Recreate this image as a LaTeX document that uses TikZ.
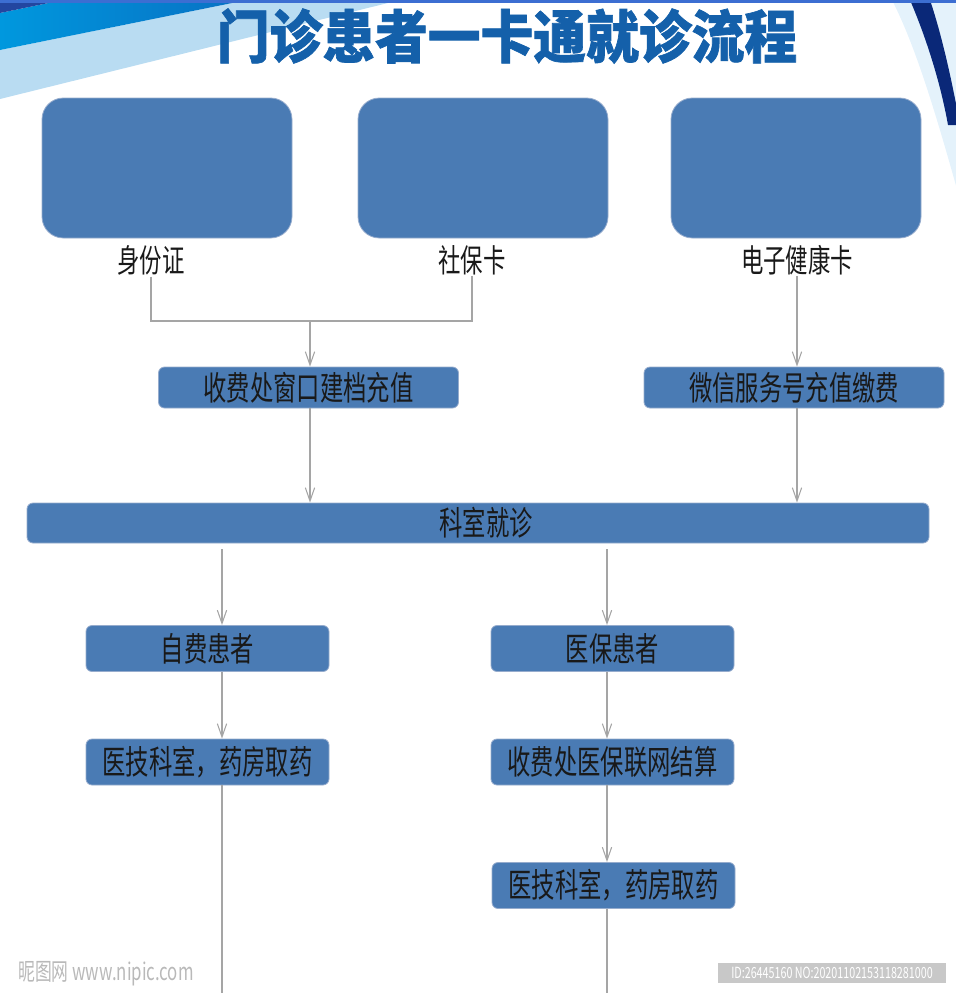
\documentclass[tikz,border=0pt]{standalone}
\usepackage{fontspec}
\usetikzlibrary{arrows.meta}
\newfontfamily\cjk[FakeStretch=0.7]{Noto Sans CJK SC}
\newfontfamily\cjktitle[FakeStretch=0.92,BoldFeatures={FakeBold=1.2}]{Noto Sans CJK SC}
\definecolor{boxblue}{RGB}{74,123,180}
\definecolor{boxedge}{RGB}{150,172,205}
\definecolor{linegray}{RGB}{165,165,165}
\definecolor{titleblue}{RGB}{20,96,170}
\definecolor{txt}{RGB}{25,25,25}
\definecolor{navyA}{RGB}{35,70,160}
\definecolor{midL}{RGB}{0,152,222}
\definecolor{midR}{RGB}{8,112,195}
\definecolor{lightband}{RGB}{185,220,242}
\definecolor{verylight}{RGB}{228,242,251}
\definecolor{navyB}{RGB}{10,40,120}
\definecolor{topline}{RGB}{60,110,210}
\definecolor{idgray}{RGB}{200,200,200}
\definecolor{wmgray}{RGB}{185,185,185}
\tikzset{
  bigbox/.style={draw=boxedge, line width=0.6pt, fill=boxblue, rounded corners=16pt,
    minimum width=187.5pt, minimum height=105pt, inner sep=0pt},
  flowbox/.style={draw=boxedge, line width=0.6pt, fill=boxblue, rounded corners=4.5pt,
    inner sep=0pt, font=\cjk\fontsize{25}{28}\selectfont, text=txt},
  lbl/.style={font=\cjk\fontsize{24}{26}\selectfont, text=txt, inner sep=1pt},
  conn/.style={draw=linegray, line width=0.8pt},
  arr/.style={conn, -{Straight Barb[length=10pt,width=7pt,line width=0.8pt]}},
}
\begin{document}
\begin{tikzpicture}[x=0.75pt,y=-0.75pt]
\useasboundingbox (0,0) rectangle (956,993);
\begin{scope}
\clip (0,0) rectangle (956,993);
% top-left bands
\fill[lightband] (0,50) -- (247,0) -- (400,0) -- (0,99) -- cycle;
\shade[left color=midL, right color=midR] (0,13) -- (63,0) -- (247,0) -- (0,50) -- cycle;
\fill[navyA] (0,0) -- (63,0) -- (0,13) -- cycle;
% top-right arcs
\fill[verylight] (892,0) .. controls (915,45) and (935,110) .. (960,200) -- (960,0) -- cycle;
\fill[navyB] (910,0) .. controls (925,35) and (940,80) .. (948,125) -- (960,125) .. controls (950,70) and (940,30) .. (930,0) -- cycle;
\fill[topline] (0,0) rectangle (956,2.5);
\end{scope}

% title
\node[font=\cjktitle\bfseries\fontsize{43}{46}\selectfont, text=titleblue] (title) at (507,36) {门诊患者一卡通就诊流程};

% top boxes
\node[bigbox] (c1) at (167,168) {};
\node[bigbox] (c2) at (483,168) {};
\node[bigbox] (c3) at (796,168) {};
\node[lbl] (l1) at (151,260) {身份证};
\node[lbl] (l2) at (472,260) {社保卡};
\node[lbl] (l3) at (797,260) {电子健康卡};

% second row
\node[flowbox, minimum width=225pt, minimum height=30.75pt] (s1) at (308.5,387.5) {收费处窗口建档充值};
\node[flowbox, minimum width=225pt, minimum height=30.75pt] (s2) at (794,387.5) {微信服务号充值缴费};

% department
\node[flowbox, minimum width=676.5pt, minimum height=30pt] (ks) at (478,523) {\hspace*{12pt}科室就诊};

% patient types
\node[flowbox, minimum width=182.25pt, minimum height=34.5pt] (zf) at (207.5,648.5) {自费患者};
\node[flowbox, minimum width=182.25pt, minimum height=34.5pt] (yb) at (612.5,648.5) {医保患者};
\node[flowbox, minimum width=182.25pt, minimum height=34.5pt] (yj1) at (207.5,762) {医技科室，药房取药};
\node[flowbox, minimum width=182.25pt, minimum height=34.5pt] (js) at (612.5,762) {收费处医保联网结算};
\node[flowbox, minimum width=182.25pt, minimum height=34.5pt] (yj2) at (613.5,885.5) {医技科室，药房取药};

% connectors
\coordinate (j) at (310,321);
\coordinate (xL) at (222,0);
\coordinate (xR) at (607,0);
\coordinate (bot) at (0,996);
\draw[conn] (l1.south) |- (j) -| (l2.south);
\draw[arr] (j) -- (j |- s1.north);
\draw[arr] (l3.south) -- (l3.south |- s2.north);
\draw[arr] (s1.south -| j) -- (j |- ks.north);
\draw[arr] (l3.south |- s2.south) -- (l3.south |- ks.north);
\draw[arr] ([yshift=-4.5pt]ks.south -| xL) -- (xL |- zf.north);
\draw[arr] ([yshift=-4.5pt]ks.south -| xR) -- (xR |- yb.north);
\draw[arr] (zf.south -| xL) -- (xL |- yj1.north);
\draw[arr] (yb.south -| xR) -- (xR |- js.north);
\draw[arr] (js.south -| xR) -- (xR |- yj2.north);
\draw[conn] (yj1.south -| xL) -- (xL |- bot);
\draw[conn] (yj2.south -| xR) -- (xR |- bot);

% watermarks
\node[font=\cjk\fontsize{18}{20}\selectfont, text=wmgray, anchor=west, inner sep=0pt] (wm) at (18,974) {昵图网 www.nipic.com};
\node[fill=idgray, minimum width=171pt, minimum height=15pt, inner sep=0pt, text=white,
  font=\cjk\fontsize{11.5}{13}\selectfont] (id) at (832,973) {ID:26445160 NO:20201102153118281000};
\end{tikzpicture}
\end{document}
